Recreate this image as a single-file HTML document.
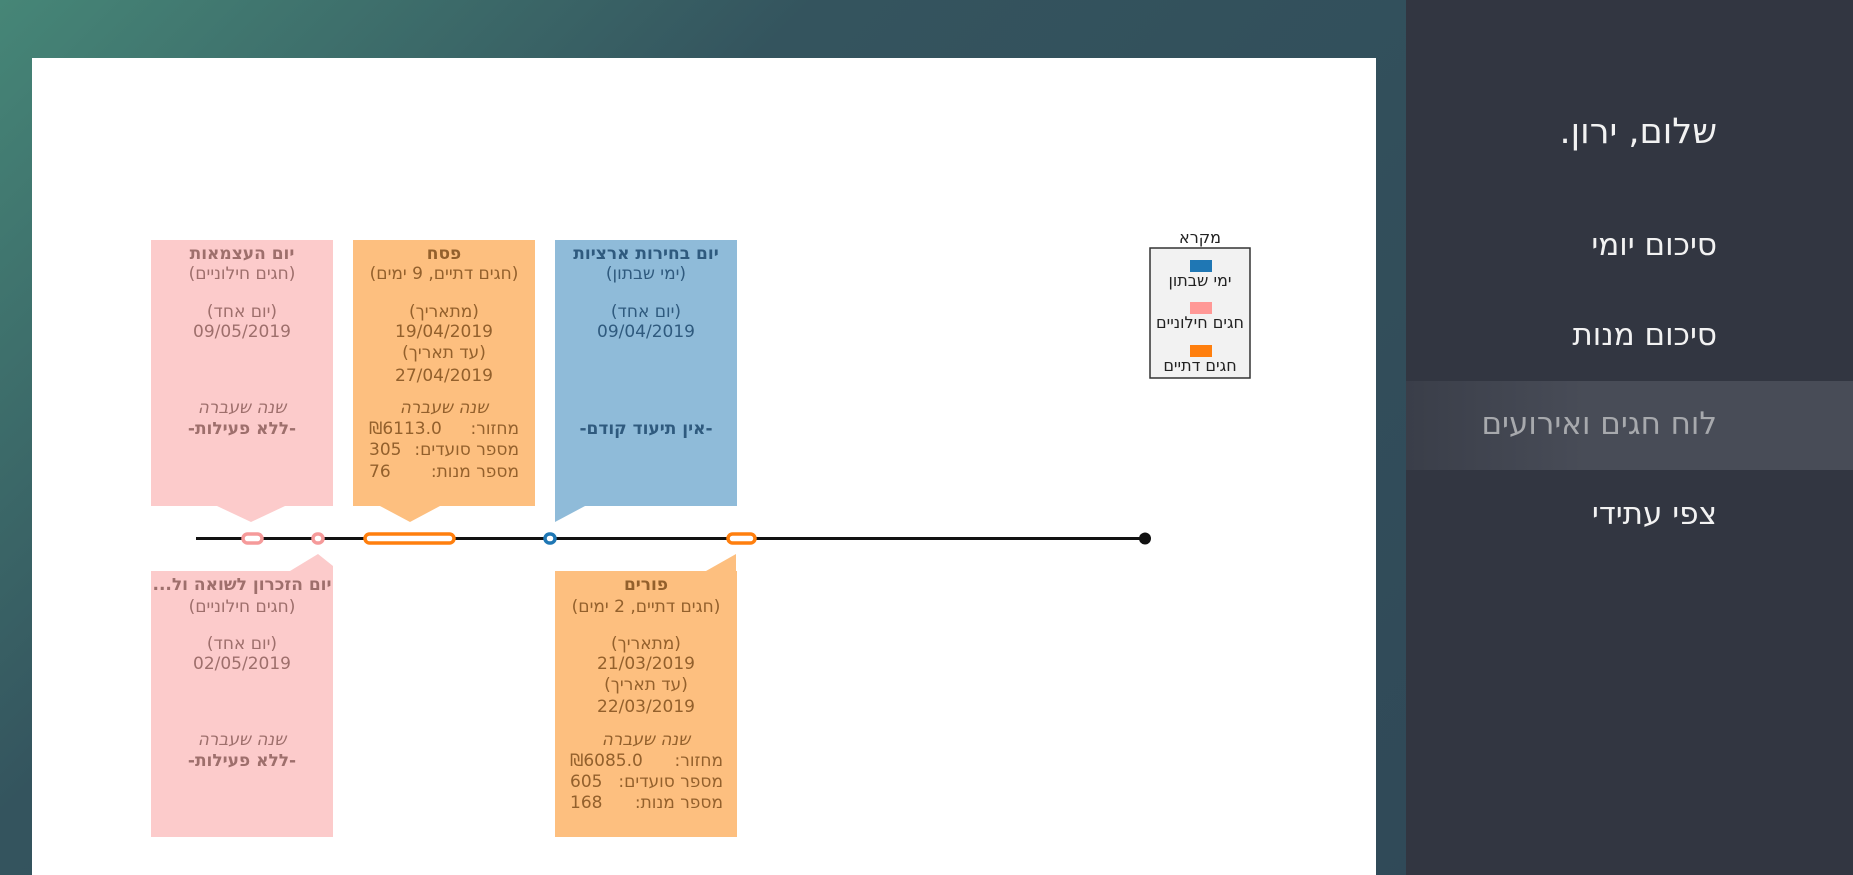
<!DOCTYPE html>
<html><head><meta charset="utf-8">
<style>
*{margin:0;padding:0;box-sizing:border-box}
body{width:1853px;height:875px;overflow:hidden;position:relative;background:linear-gradient(135deg,#468677 0%,#34545e 30%,#2f4656 100%);font-family:"DejaVu Sans","Liberation Sans",sans-serif}
.side{position:absolute;left:1406px;top:0;width:447px;height:875px;background:#323641}
.nav{position:absolute;right:136px;color:#f2f2f2;font-size:31px;direction:rtl;white-space:nowrap;font-family:"DejaVu Sans","Liberation Sans",sans-serif}
.hl{position:absolute;left:0;top:381px;width:447px;height:89px;background:linear-gradient(90deg,#3a3e49,#484c57 40%,#484c57)}
.panel{position:absolute;left:32px;top:58px;width:1344px;height:817px;background:#fff}
.box{position:absolute;width:182px;height:266px}
.t{position:absolute;left:-10px;width:202px;text-align:center;direction:rtl;font-size:17px;line-height:20px;white-space:nowrap}
.b{font-weight:bold}
.i{font-style:italic}
.row{position:absolute;left:0;width:100%;font-size:17px;line-height:20px;white-space:nowrap}
.row .l{position:absolute;direction:rtl}
.row .v{position:absolute}
svg{position:absolute;left:0;top:0}
.lg{position:absolute;left:1150px;width:100px;text-align:center;direction:rtl;font-size:16px;color:#222;white-space:nowrap}
</style></head><body>
<div class="panel"></div>
<div class="side">
<div class="hl"></div>
<div class="nav" style="top:112px;font-size:35px">שלום, ירון.</div>
<div class="nav" style="top:227px">סיכום יומי</div>
<div class="nav" style="top:317px">סיכום מנות</div>
<div class="nav" style="top:406px;color:#a7a9ad">לוח חגים ואירועים</div>
<div class="nav" style="top:496px">צפי עתידי</div>
</div>

<svg width="1853" height="875">
<polygon points="217,506 285,506 251,522" fill="#fccbcb"/>
<polygon points="380,506 440,506 410,522" fill="#fdbf7f"/>
<polygon points="555,506 585,506 555,522" fill="#8fbbd9"/>
<polygon points="290,571 333,571 333,566 318,554" fill="#fccbcb"/>
<polygon points="706,571 736,571 736,554" fill="#fdbf7f"/>
<line x1="196" y1="538.5" x2="1144" y2="538.5" stroke="#111" stroke-width="3"/>
<rect x="243" y="534" width="19" height="9" rx="4.5" fill="#fff" stroke="#f59a9a" stroke-width="3.5"/>
<rect x="313" y="534" width="10" height="9" rx="4.5" fill="#fff" stroke="#f59a9a" stroke-width="3.5"/>
<rect x="365" y="534" width="89" height="9" rx="4.5" fill="#fff" stroke="#ff7f0e" stroke-width="3.5"/>
<rect x="545" y="534" width="10" height="9" rx="4.5" fill="#fff" stroke="#1f77b4" stroke-width="3.5"/>
<rect x="728" y="534" width="27" height="9" rx="4.5" fill="#fff" stroke="#ff7f0e" stroke-width="3.5"/>
<circle cx="1145" cy="538.5" r="6" fill="#111"/>
<rect x="1150" y="248" width="100" height="130" fill="#f2f2f2" stroke="#333" stroke-width="1.5"/>
<rect x="1190" y="260" width="22" height="12" fill="#1f77b4"/>
<rect x="1190" y="302" width="22" height="12" fill="#ff9896"/>
<rect x="1190" y="345" width="22" height="12" fill="#ff7f0e"/>
</svg>
<div class="lg" style="top:228px">מקרא</div>
<div class="lg" style="top:271px">ימי שבתון</div>
<div class="lg" style="top:313px">חגים חילוניים</div>
<div class="lg" style="top:356px">חגים דתיים</div>

<div class="box" style="left:151px;top:240px;background:#fccbcb;color:#9e6f6c">
<div class="t b" style="top:4px">יום העצמאות</div>
<div class="t" style="top:24px">(חגים חילוניים)</div>
<div class="t" style="top:62px">(יום אחד)</div>
<div class="t" style="top:82px">09/05/2019</div>
<div class="t i" style="top:158px">שנה שעברה</div>
<div class="t b" style="top:179px">-ללא פעילות-</div>
</div>
<div class="box" style="left:353px;top:240px;background:#fdbf7f;color:#93602c">
<div class="t b" style="top:4px">פסח</div>
<div class="t" style="top:24px">(חגים דתיים, 9 ימים)</div>
<div class="t" style="top:62px">(מתאריך)</div>
<div class="t" style="top:82px">19/04/2019</div>
<div class="t" style="top:103px">(עד תאריך)</div>
<div class="t" style="top:126px">27/04/2019</div>
<div class="t i" style="top:158px">שנה שעברה</div>
<div class="row" style="top:179px"><span class="l" style="right:16px">מחזור:</span><span class="v" style="left:16px">₪6113.0</span></div>
<div class="row" style="top:200px"><span class="l" style="right:16px">מספר סועדים:</span><span class="v" style="left:16px">305</span></div>
<div class="row" style="top:222px"><span class="l" style="right:16px">מספר מנות:</span><span class="v" style="left:16px">76</span></div>
</div>
<div class="box" style="left:555px;top:240px;background:#8fbbd9;color:#2f5a7e">
<div class="t b" style="top:4px">יום בחירות ארציות</div>
<div class="t" style="top:24px">(ימי שבתון)</div>
<div class="t" style="top:62px">(יום אחד)</div>
<div class="t" style="top:82px">09/04/2019</div>
<div class="t b" style="top:179px">-אין תיעוד קודם-</div>
</div>

<div class="box" style="left:151px;top:571px;background:#fccbcb;color:#9e6f6c">
<div class="t b" style="top:4px">יום הזכרון לשואה ול...</div>
<div class="t" style="top:26px">(חגים חילוניים)</div>
<div class="t" style="top:63px">(יום אחד)</div>
<div class="t" style="top:83px">02/05/2019</div>
<div class="t i" style="top:159px">שנה שעברה</div>
<div class="t b" style="top:180px">-ללא פעילות-</div>
</div>
<div class="box" style="left:555px;top:571px;background:#fdbf7f;color:#93602c">
<div class="t b" style="top:4px">פורים</div>
<div class="t" style="top:26px">(חגים דתיים, 2 ימים)</div>
<div class="t" style="top:63px">(מתאריך)</div>
<div class="t" style="top:83px">21/03/2019</div>
<div class="t" style="top:104px">(עד תאריך)</div>
<div class="t" style="top:126px">22/03/2019</div>
<div class="t i" style="top:159px">שנה שעברה</div>
<div class="row" style="top:180px"><span class="l" style="right:14px">מחזור:</span><span class="v" style="left:15px">₪6085.0</span></div>
<div class="row" style="top:201px"><span class="l" style="right:14px">מספר סועדים:</span><span class="v" style="left:15px">605</span></div>
<div class="row" style="top:222px"><span class="l" style="right:14px">מספר מנות:</span><span class="v" style="left:15px">168</span></div>
</div>
</body></html>
